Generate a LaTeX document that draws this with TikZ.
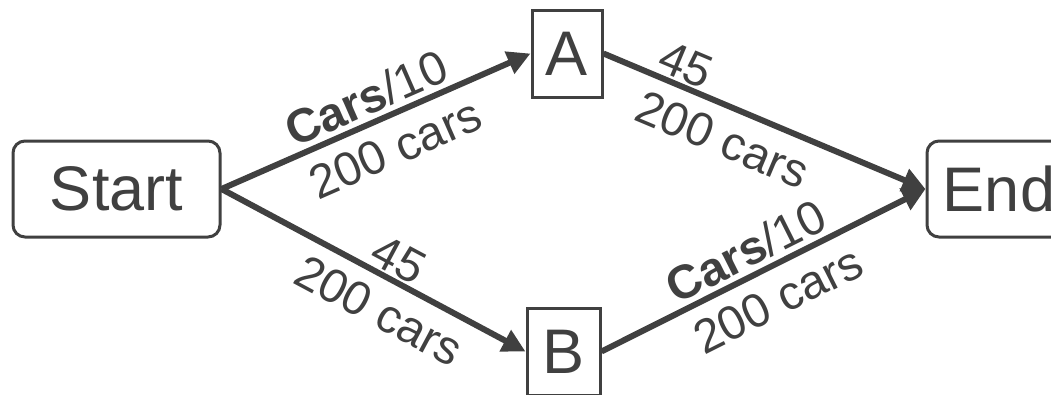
\documentclass[tikz,border=0pt]{standalone}
\usepackage{fontspec}
\setmainfont{Liberation Sans}
\usetikzlibrary{arrows.meta}
\definecolor{ink}{HTML}{404040}
\begin{document}
\begin{tikzpicture}[x=1pt,y=-1pt,
  nodebox/.style={draw=ink, line width=3pt, fill=white, text=ink, inner sep=0pt,
    font=\fontsize{63}{63}\selectfont},
  roundbox/.style={nodebox, rounded corners=12pt},
  edge/.style={draw=ink, line width=6pt, -{Triangle[length=23pt,width=23pt]}},
  lbl/.style={text=ink, inner sep=2pt, sloped, font=\fontsize{47.5}{47.5}\selectfont}]
\useasboundingbox (0,0) rectangle (1051,394);
\clip (0,0) rectangle (1051,394);

% graph nodes
\node[roundbox, minimum width=207pt, minimum height=96pt] (start) at (116.5,189) {Start};
\node[nodebox, minimum width=70pt, minimum height=87pt] (A) at (567,53.5) {A};
\node[nodebox, minimum width=73pt, minimum height=87pt] (B) at (563.5,351.5) {B};
\node[roundbox, minimum width=144pt, minimum height=96pt] (end) at (999,189) {End};

% connectors with their labels
\draw[edge] (start.east) --
  node[lbl, above=3pt, pos=0.5] {\textbf{Cars}/10}
  node[lbl, below=11pt, pos=0.52] {200 cars} (A.west);
\draw[edge] (start.east) --
  node[lbl, above=0pt, pos=0.55] {45}
  node[lbl, below=11pt, pos=0.57] {200 cars} (B.west);
\draw[edge] (A.east) --
  node[lbl, above=0pt, pos=0.23] {45}
  node[lbl, below=11pt, pos=0.41] {200 cars} (end.west);
\draw[edge] (B.east) --
  node[lbl, above=3pt, pos=0.48] {\textbf{Cars}/10}
  node[lbl, below=11pt, pos=0.5] {200 cars} (end.west);
\end{tikzpicture}
\end{document}
